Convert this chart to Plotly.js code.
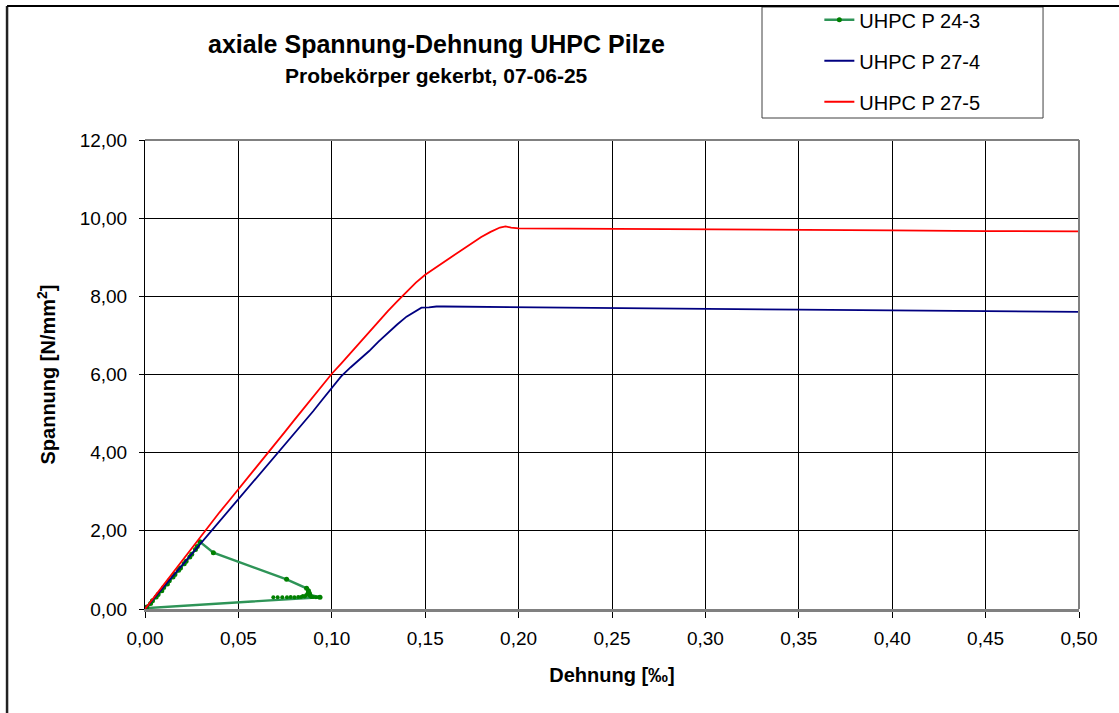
<!DOCTYPE html>
<html>
<head>
<meta charset="utf-8">
<script src="https://cdn.plot.ly/plotly-3.0.1.min.js"></script>
<style>
html,body{margin:0;padding:0;background:#fff;}
#chart{width:1119px;height:713px;}
</style>
</head>
<body>
<div id="chart"></div>
<script>
// ---- Data ----
const seriesNames = ["UHPC P 24-3", "UHPC P 27-4", "UHPC P 27-5"];

// UHPC P 24-3 (green): loading, drop, residual, back to origin
const p243_x = [0.000,0.001,0.003,0.004,0.006,0.007,0.009,0.010,0.012,0.013,0.015,0.016,0.018,0.019,0.021,0.022,0.024,0.025,0.027,0.028,0.0294,
                0.0366,0.0758,0.0865,0.0875,0.0880,0.0883,0.0937,0.000];
const p243_y = [0.00,0.05,0.14,0.21,0.31,0.37,0.47,0.55,0.64,0.72,0.82,0.88,0.99,1.05,1.16,1.22,1.33,1.40,1.52,1.60,1.72,
                1.44,0.76,0.53,0.47,0.40,0.36,0.30,0.02];
// residual measurement cluster of P 24-3 (points only)
const p243c_x = [0.0687,0.0710,0.0735,0.0760,0.0780,0.0800,0.0820,0.0835,0.0845,0.0855,0.0862,0.0868,0.0872,0.0878,0.0884,0.0890,0.0900,0.0915,0.0930];
const p243c_y = [0.30,0.30,0.30,0.30,0.31,0.30,0.31,0.31,0.33,0.32,0.35,0.38,0.42,0.36,0.33,0.31,0.31,0.30,0.30];

// UHPC P 27-4 (blue)
const p274_x = [0.000,0.005,0.010,0.015,0.020,0.025,0.030,0.035,0.040,0.045,0.050,0.055,0.060,0.065,0.070,0.075,0.080,0.085,0.090,0.095,
                0.100,0.105,0.110,0.115,0.120,0.125,0.130,0.135,0.140,0.145,0.148,0.152,0.156,0.160,0.200,0.250,0.300,0.350,0.400,0.450,0.500];
const p274_y = [0.00,0.28,0.56,0.84,1.12,1.40,1.68,1.96,2.24,2.52,2.80,3.08,3.36,3.64,3.92,4.20,4.48,4.77,5.06,5.36,
                5.66,5.95,6.18,6.38,6.60,6.84,7.07,7.28,7.48,7.63,7.71,7.72,7.74,7.74,7.72,7.70,7.68,7.66,7.64,7.62,7.60];

// UHPC P 27-5 (red)
const p275_x = [0.000,0.005,0.010,0.015,0.020,0.025,0.030,0.035,0.040,0.045,0.050,0.055,0.060,0.065,0.070,0.075,0.080,0.085,0.090,0.095,
                0.100,0.105,0.110,0.115,0.120,0.125,0.130,0.135,0.140,0.145,0.150,0.155,0.160,0.165,0.170,0.175,0.180,0.185,0.190,0.193,0.196,
                0.200,0.250,0.300,0.350,0.400,0.450,0.500];
const p275_y = [0.00,0.31,0.63,0.94,1.25,1.56,1.88,2.18,2.48,2.77,3.07,3.36,3.66,3.95,4.25,4.54,4.84,5.13,5.43,5.72,
                6.02,6.28,6.55,6.82,7.10,7.36,7.62,7.87,8.12,8.35,8.55,8.72,8.88,9.04,9.20,9.36,9.52,9.65,9.76,9.79,9.76,
                9.74,9.73,9.71,9.70,9.69,9.67,9.66];

const xTickVals = [0,0.05,0.10,0.15,0.20,0.25,0.30,0.35,0.40,0.45,0.50];
const yTickVals = [0,2,4,6,8,10,12];

const titleText = "axiale Spannung-Dehnung UHPC Pilze";
const subtitleText = "Probekörper gekerbt, 07-06-25";
const xTitle = "Dehnung [‰]";
const yTitle = "Spannung [N/mm<sup>2</sup>]";

// ---- Chart ----
const FONT = "Liberation Sans, Arial, Helvetica, sans-serif";

const traces = [
  {x:p243_x, y:p243_y, name:seriesNames[0], type:"scatter", mode:"lines+markers",
   legendgroup:"g1",
   line:{color:"#2E9457", width:2.4}, marker:{color:"#008000", size:5}},
  {x:p243c_x, y:p243c_y, name:seriesNames[0], type:"scatter", mode:"markers",
   legendgroup:"g1", showlegend:false,
   marker:{color:"#008000", size:4}},
  {x:p274_x, y:p274_y, name:seriesNames[1], type:"scatter", mode:"lines",
   legendgroup:"g2",
   line:{color:"#000080", width:1.8}},
  {x:p275_x, y:p275_y, name:seriesNames[2], type:"scatter", mode:"lines",
   legendgroup:"g3",
   line:{color:"#FF0000", width:1.8}}
];

const layout = {
  width:1119, height:713,
  margin:{l:145, r:40, t:140, b:104, pad:0, autoexpand:false},
  paper_bgcolor:"#ffffff", plot_bgcolor:"#ffffff",
  separators:",.",
  font:{family:FONT, color:"#000", size:19},
  showlegend:true,
  legend:{x:0.722, y:1.298, xanchor:"left", yanchor:"top",
          bgcolor:"rgba(0,0,0,0)", borderwidth:0,
          font:{family:FONT, size:20, color:"#000"},
          tracegroupgap:12, traceorder:"grouped"},
  xaxis:{range:[0,0.5], tickvals:xTickVals, tickformat:".2f",
         showgrid:true, gridcolor:"#000", gridwidth:1,
         zeroline:false, showline:true, linecolor:"#808080", linewidth:2.5, mirror:false,
         ticks:"outside", ticklen:6, tickcolor:"#000", tickwidth:1,
         ticklabelstandoff:5,
         tickfont:{family:FONT, size:19, color:"#000"},
         title:{text:"<b>"+xTitle+"</b>", font:{family:FONT, size:20, color:"#000"}, standoff:20}},
  yaxis:{range:[0,12], tickvals:yTickVals, tickformat:".2f",
         showgrid:true, gridcolor:"#000", gridwidth:1,
         zeroline:false, showline:true, linecolor:"#000", linewidth:1, mirror:false,
         ticks:"outside", ticklen:5, tickcolor:"#000", tickwidth:1,
         ticklabelstandoff:8,
         tickfont:{family:FONT, size:19, color:"#000"},
         title:{text:"<b>"+yTitle+"</b>", font:{family:FONT, size:20, color:"#000"}, standoff:18}},
  annotations:[
    {text:"<b>"+titleText+"</b>", xref:"paper", yref:"paper", x:0.3126, y:1.2047,
     xanchor:"center", yanchor:"middle", showarrow:false, font:{family:FONT, size:25, color:"#000"}},
    {text:"<b>"+subtitleText+"</b>", xref:"paper", yref:"paper", x:0.3126, y:1.1365,
     xanchor:"center", yanchor:"middle", showarrow:false, font:{family:FONT, size:21, color:"#000"}}
  ],
  shapes:[
    // plot area top & right border (gray)
    {type:"line", xref:"paper", yref:"paper", x0:0, x1:1, y0:1, y1:1, line:{color:"#808080", width:2}},
    {type:"line", xref:"paper", yref:"paper", x0:1, x1:1, y0:0, y1:1, line:{color:"#808080", width:2}},
    // legend box
    {type:"rect", xref:"paper", yref:"paper", x0:0.6606, x1:0.9615, y0:1.0469, y1:1.2836,
     line:{color:"#404040", width:1}, fillcolor:"rgba(0,0,0,0)"},
    // outer chart frame (left & top)
    {type:"line", xref:"paper", yref:"paper", x0:-0.1477, x1:-0.1477, y0:-0.23, y1:1.2857, line:{color:"#222", width:2.5}},
    {type:"line", xref:"paper", yref:"paper", x0:-0.1477, x1:1.05, y0:1.2857, y1:1.2857, line:{color:"#000", width:2}}
  ]
};

Plotly.newPlot("chart", traces, layout, {displayModeBar:false, staticPlot:true});
</script>
</body>
</html>
